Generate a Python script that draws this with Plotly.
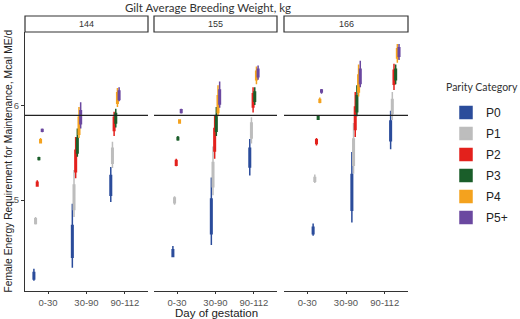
import plotly.graph_objects as go

facets = ["144", "155", "166"]
days = ["0-30", "30-90", "90-112"]
parity = ["P0", "P1", "P2", "P3", "P4", "P5+"]
colors = ["#2B4C9B", "#BDBDBD", "#E3211C", "#1A5E2A", "#F4A21E", "#6B48A0"]
ref_line = 5.9

# rows: parity P0..P5+, columns: day of gestation 0-30, 30-90, 90-112
low_144 = [[4.14, 4.28, 4.98], [4.74, 4.82, 5.34], [5.14, 5.23, 5.68],
           [5.42, 5.46, 5.77], [5.60, 5.66, 5.99], [5.72, 5.76, 6.05]]
q1_144 = [[4.16, 4.39, 5.05], [4.75, 4.90, 5.39], [5.15, 5.30, 5.74],
          [5.43, 5.50, 5.82], [5.61, 5.70, 6.03], [5.73, 5.81, 6.07]]
med_144 = [[4.19, 4.55, 5.15], [4.77, 5.03, 5.47], [5.17, 5.41, 5.81],
           [5.44, 5.58, 5.87], [5.62, 5.79, 6.08], [5.74, 5.88, 6.11]]
q3_144 = [[4.23, 4.73, 5.26], [4.80, 5.16, 5.55], [5.19, 5.53, 5.88],
          [5.45, 5.66, 5.92], [5.64, 5.88, 6.14], [5.75, 5.95, 6.16]]
high_144 = [[4.27, 4.96, 5.35], [4.82, 5.32, 5.62], [5.21, 5.67, 5.94],
            [5.46, 5.76, 5.97], [5.66, 5.99, 6.19], [5.76, 6.04, 6.20]]

low_155 = [[4.39, 4.52, 5.26], [4.95, 5.05, 5.60], [5.36, 5.44, 5.93],
           [5.63, 5.68, 6.01], [5.81, 5.89, 6.23], [5.92, 5.98, 6.28]]
q1_155 = [[4.40, 4.64, 5.35], [4.97, 5.14, 5.66], [5.37, 5.52, 5.99],
          [5.64, 5.73, 6.05], [5.82, 5.93, 6.28], [5.93, 6.02, 6.31]]
med_155 = [[4.43, 4.82, 5.45], [4.99, 5.27, 5.74], [5.40, 5.64, 6.06],
           [5.65, 5.81, 6.10], [5.83, 6.02, 6.32], [5.94, 6.09, 6.35]]
q3_155 = [[4.47, 5.01, 5.55], [5.02, 5.40, 5.82], [5.42, 5.76, 6.13],
          [5.665, 5.90, 6.15], [5.85, 6.11, 6.37], [5.96, 6.17, 6.39]]
high_155 = [[4.51, 5.24, 5.65], [5.04, 5.57, 5.88], [5.44, 5.90, 6.20],
            [5.68, 5.99, 6.20], [5.86, 6.22, 6.42], [5.97, 6.26, 6.43]]

low_166 = [[4.62, 4.76, 5.54], [5.18, 5.28, 5.85], [5.58, 5.67, 6.17],
           [5.85, 5.89, 6.23], [6.03, 6.10, 6.46], [6.13, 6.20, 6.49]]
q1_166 = [[4.64, 4.89, 5.63], [5.20, 5.37, 5.92], [5.60, 5.75, 6.23],
          [5.86, 5.94, 6.28], [6.04, 6.15, 6.51], [6.15, 6.24, 6.53]]
med_166 = [[4.67, 5.08, 5.73], [5.22, 5.51, 6.00], [5.62, 5.87, 6.30],
           [5.87, 6.02, 6.33], [6.05, 6.24, 6.56], [6.16, 6.31, 6.57]]
q3_166 = [[4.71, 5.27, 5.84], [5.24, 5.65, 6.07], [5.64, 5.99, 6.38],
          [5.89, 6.11, 6.39], [6.07, 6.33, 6.61], [6.17, 6.39, 6.62]]
high_166 = [[4.75, 5.51, 5.95], [5.27, 5.82, 6.15], [5.66, 6.15, 6.45],
            [5.90, 6.22, 6.44], [6.09, 6.44, 6.66], [6.18, 6.48, 6.66]]

stats = [
    (low_144, q1_144, med_144, q3_144, high_144),
    (low_155, q1_155, med_155, q3_155, high_155),
    (low_166, q1_166, med_166, q3_166, high_166),
]

W, H = 520, 319
ML, MR, MT, MB = 25, 112, 32, 28
pw = W - ML - MR
ph = H - MT - MB
panel_px = [(0, 123), (129, 252), (259, 383)]
domains = [[a / pw, b / pw] for a, b in panel_px]

fig = go.Figure()
for fi, (lo, q1, md, q3, hi) in enumerate(stats):
    xa = "x" if fi == 0 else f"x{fi+1}"
    for pi, name in enumerate(parity):
        fig.add_trace(go.Box(
            x=days, q1=q1[pi], median=md[pi], q3=q3[pi],
            lowerfence=lo[pi], upperfence=hi[pi],
            name=name, legendgroup=name, showlegend=(fi == 0),
            marker_color=colors[pi], fillcolor=colors[pi],
            line=dict(color=colors[pi], width=1.5),
            whiskerwidth=0, boxpoints=False,
            xaxis=xa, yaxis="y", hoverinfo="skip",
        ))

axis_common = dict(
    showline=True, linecolor="#333333", linewidth=1.3,
    ticks="outside", ticklen=3, tickcolor="#333333", tickwidth=1,
    tickfont=dict(family="Liberation Sans, Arial", size=9.5, color="#555555"),
    showgrid=False, zeroline=False, fixedrange=True, automargin=False,
)
layout = dict(
    width=W, height=H,
    margin=dict(l=ML, r=MR, t=MT, b=MB, autoexpand=False),
    plot_bgcolor="white", paper_bgcolor="white",
    boxmode="group", boxgap=0.22, boxgroupgap=0.08,
    showlegend=True,
    legend=dict(
        x=(446 - ML) / pw, xanchor="left", y=1 - (98 - MT) / ph, yanchor="top",
        font=dict(family="Liberation Sans, Arial", size=12, color="#222222"),
        tracegroupgap=2, bgcolor="rgba(0,0,0,0)",
        traceorder="grouped",
    ),
    yaxis=dict(range=[4.032, 6.787], tickvals=[5, 6], ticktext=["5", "6"],
               **axis_common),
)
for fi in range(3):
    key = "xaxis" if fi == 0 else f"xaxis{fi+1}"
    layout[key] = dict(domain=domains[fi], type="category",
                       categoryorder="array", categoryarray=days,
                       range=[-0.6, 2.6], anchor="y", **axis_common)
fig.update_layout(**layout)
fig.update_xaxes(ticklen=2)

shapes = []
annotations = []
for fi in range(3):
    xa = "x" if fi == 0 else f"x{fi+1}"
    shapes.append(dict(type="line", xref=f"{xa} domain", yref="y",
                       x0=0, x1=1, y0=ref_line, y1=ref_line,
                       line=dict(color="#222222", width=1.3), layer="above"))
    a, b = panel_px[fi]
    shapes.append(dict(type="rect", xref="paper", yref="paper",
                       x0=a / pw, x1=b / pw,
                       y0=1.0, y1=1 + 16 / ph,
                       line=dict(color="#333333", width=1.2),
                       fillcolor="white"))
    annotations.append(dict(text=facets[fi], xref="paper", yref="paper",
                            x=(a + b) / 2 / pw, y=1 + 8 / ph,
                            showarrow=False, xanchor="center", yanchor="middle",
                            font=dict(family="Liberation Sans, Arial", size=9,
                                      color="#333333")))

annotations += [
    dict(text="Gilt Average Breeding Weight, kg", xref="paper", yref="paper",
         x=(208 - ML) / pw, y=1 + 24 / ph, showarrow=False,
         xanchor="center", yanchor="middle",
         font=dict(family="Lato, Open Sans", size=11.5, color="#333333")),
    dict(text="Day of gestation", xref="paper", yref="paper",
         x=(216 - ML) / pw, y=-22 / ph, showarrow=False,
         xanchor="center", yanchor="middle",
         font=dict(family="Liberation Sans, Arial", size=11.5, color="#222222")),
    dict(text="Female Energy Requirement for Maintenance, Mcal ME/d",
         xref="paper", yref="paper", x=(8 - ML) / pw, y=0.5, textangle=-90,
         showarrow=False, xanchor="center", yanchor="middle",
         font=dict(family="Liberation Sans, Arial", size=10.3, color="#222222")),
    dict(text="Parity Category", xref="paper", yref="paper",
         x=(444 - ML) / pw, y=1 - (87 - MT) / ph, showarrow=False,
         xanchor="left", yanchor="middle",
         font=dict(family="Lato, Open Sans", size=10.5, color="#333333")),
]
fig.update_layout(shapes=shapes, annotations=annotations)

fig.write_html("out.html", config={"displayModeBar": False},
               post_script="document.body.style.margin='0';document.body.style.padding='0';")
